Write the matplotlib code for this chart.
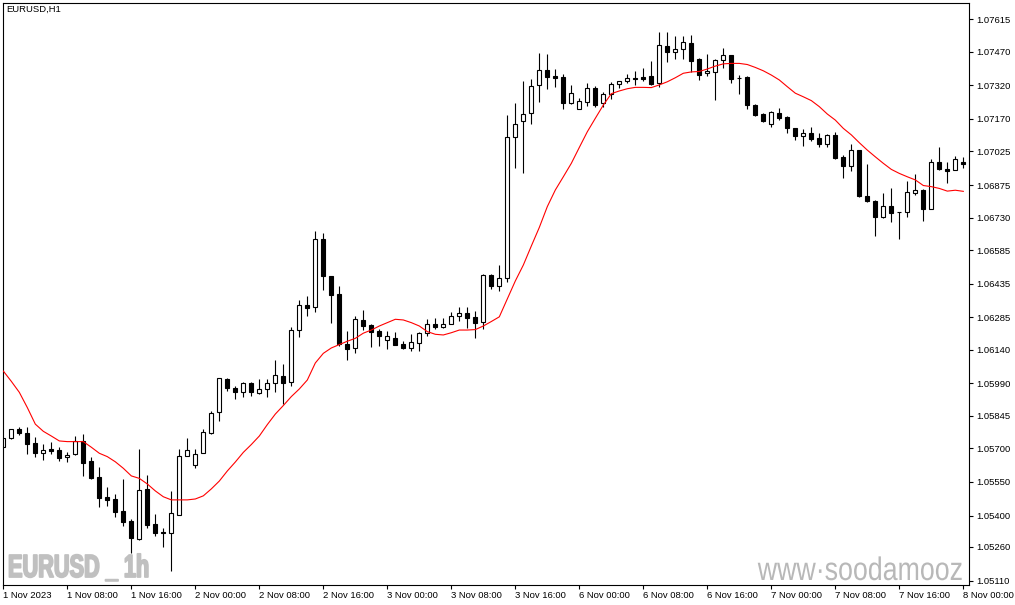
import matplotlib
matplotlib.use("Agg")
import matplotlib.pyplot as plt
from matplotlib.patheffects import AbstractPathEffect
from matplotlib.transforms import Affine2D
import numpy as np

# ---------------- data (EURUSD H1, 1 Nov 2023 00:00 .. 8 Nov 2023 00:00) ----------------
opens = [1.05707, 1.05745, 1.05785, 1.05769, 1.05723, 1.05678, 1.05696, 1.05692, 1.05660, 1.05673,
         1.05731, 1.05645, 1.05572, 1.05483, 1.05474, 1.05420, 1.05376, 1.05294, 1.05519, 1.05362,
         1.05325, 1.05321, 1.05403, 1.05665, 1.05624, 1.05678, 1.05769, 1.05861, 1.06008, 1.05968,
         1.05950, 1.05990, 1.05948, 1.05964, 1.05990, 1.06023, 1.05995, 1.06227, 1.06340, 1.06330,
         1.06633, 1.06469, 1.06389, 1.06166, 1.06147, 1.06273, 1.06249, 1.06224, 1.06182, 1.06193,
         1.06166, 1.06150, 1.06169, 1.06214, 1.06255, 1.06243, 1.06254, 1.06292, 1.06303, 1.06285,
         1.06263, 1.06474, 1.06423, 1.06459, 1.07088, 1.07160, 1.07195, 1.07320, 1.07387, 1.07362,
         1.07359, 1.07240, 1.07216, 1.07247, 1.07307, 1.07240, 1.07282, 1.07326, 1.07340, 1.07352,
         1.07357, 1.07362, 1.07329, 1.07496, 1.07467, 1.07481, 1.07508, 1.07436, 1.07374, 1.07381,
         1.07432, 1.07456, 1.07353, 1.07357, 1.07232, 1.07192, 1.07149, 1.07197, 1.07177, 1.07128,
         1.07095, 1.07106, 1.07084, 1.07057, 1.07097, 1.07000, 1.06959, 1.07031, 1.06826, 1.06804,
         1.06731, 1.06780, 1.06755, 1.06754, 1.06841, 1.06852, 1.06767, 1.06979, 1.06947, 1.06942,
         1.06977]
highs = [1.05748, 1.05787, 1.05795, 1.05794, 1.05751, 1.05721, 1.05730, 1.05706, 1.05682, 1.05755,
         1.05764, 1.05663, 1.05618, 1.05526, 1.05496, 1.05563, 1.05385, 1.05696, 1.05581, 1.05408,
         1.05346, 1.05510, 1.05696, 1.05745, 1.05696, 1.05788, 1.05867, 1.06015, 1.06014, 1.05978,
         1.05996, 1.05995, 1.06009, 1.06008, 1.06094, 1.06077, 1.06240, 1.06362, 1.06380, 1.06670,
         1.06661, 1.06470, 1.06425, 1.06224, 1.06289, 1.06318, 1.06255, 1.06231, 1.06224, 1.06219,
         1.06178, 1.06210, 1.06218, 1.06277, 1.06282, 1.06282, 1.06309, 1.06331, 1.06331, 1.06314,
         1.06478, 1.06476, 1.06518, 1.07188, 1.07240, 1.07340, 1.07348, 1.07464, 1.07460, 1.07392,
         1.07371, 1.07322, 1.07265, 1.07329, 1.07317, 1.07289, 1.07334, 1.07339, 1.07371, 1.07382,
         1.07396, 1.07430, 1.07557, 1.07557, 1.07540, 1.07542, 1.07544, 1.07444, 1.07459, 1.07438,
         1.07487, 1.07457, 1.07366, 1.07364, 1.07235, 1.07195, 1.07206, 1.07218, 1.07185, 1.07131,
         1.07125, 1.07133, 1.07106, 1.07102, 1.07111, 1.07008, 1.07058, 1.07032, 1.06969, 1.06808,
         1.06838, 1.06862, 1.06757, 1.06893, 1.06924, 1.06857, 1.06990, 1.07044, 1.06977, 1.07005,
         1.06999]
lows = [1.05704, 1.05743, 1.05758, 1.05673, 1.05663, 1.05648, 1.05676, 1.05644, 1.05639, 1.05671,
        1.05578, 1.05562, 1.05440, 1.05444, 1.05395, 1.05354, 1.05232, 1.05292, 1.05346, 1.05310,
        1.05261, 1.05154, 1.05401, 1.05664, 1.05614, 1.05677, 1.05763, 1.05822, 1.05955, 1.05922,
        1.05927, 1.05935, 1.05943, 1.05928, 1.05953, 1.05897, 1.05980, 1.06198, 1.06292, 1.06310,
        1.06407, 1.06261, 1.06157, 1.06094, 1.06127, 1.06228, 1.06154, 1.06157, 1.06142, 1.06160,
        1.06145, 1.06136, 1.06136, 1.06201, 1.06233, 1.06239, 1.06253, 1.06270, 1.06239, 1.06191,
        1.06231, 1.06410, 1.06401, 1.06444, 1.06953, 1.06928, 1.07146, 1.07247, 1.07303, 1.07314,
        1.07216, 1.07238, 1.07213, 1.07229, 1.07222, 1.07225, 1.07258, 1.07308, 1.07332, 1.07322,
        1.07338, 1.07323, 1.07311, 1.07423, 1.07436, 1.07436, 1.07378, 1.07344, 1.07362, 1.07255,
        1.07396, 1.07331, 1.07282, 1.07215, 1.07183, 1.07155, 1.07136, 1.07165, 1.07109, 1.07076,
        1.07051, 1.07071, 1.07046, 1.07046, 1.06993, 1.06908, 1.06939, 1.06823, 1.06798, 1.06649,
        1.06730, 1.06712, 1.06633, 1.06731, 1.06831, 1.06716, 1.06766, 1.06942, 1.06886, 1.06941,
        1.06950]
closes = [1.05745, 1.05785, 1.05767, 1.05721, 1.05678, 1.05691, 1.05688, 1.05658, 1.05670, 1.05731,
          1.05633, 1.05568, 1.05480, 1.05471, 1.05417, 1.05373, 1.05301, 1.05514, 1.05359, 1.05324,
          1.05321, 1.05410, 1.05665, 1.05691, 1.05675, 1.05773, 1.05857, 1.06013, 1.05968, 1.05950,
          1.05990, 1.05950, 1.05964, 1.05990, 1.06026, 1.05993, 1.06227, 1.06338, 1.06328, 1.06633,
          1.06471, 1.06386, 1.06166, 1.06145, 1.06277, 1.06247, 1.06221, 1.06203, 1.06201, 1.06163,
          1.06147, 1.06173, 1.06214, 1.06254, 1.06243, 1.06254, 1.06289, 1.06303, 1.06283, 1.06261,
          1.06474, 1.06423, 1.06459, 1.07088, 1.07146, 1.07192, 1.07317, 1.07387, 1.07359, 1.07352,
          1.07240, 1.07285, 1.07252, 1.07307, 1.07234, 1.07282, 1.07325, 1.07338, 1.07352, 1.07348,
          1.07349, 1.07325, 1.07499, 1.07467, 1.07481, 1.07512, 1.07430, 1.07368, 1.07384, 1.07432,
          1.07454, 1.07349, 1.07352, 1.07234, 1.07188, 1.07162, 1.07201, 1.07176, 1.07131, 1.07095,
          1.07106, 1.07082, 1.07057, 1.07097, 1.06997, 1.06962, 1.07030, 1.06828, 1.06805, 1.06734,
          1.06780, 1.06752, 1.06754, 1.06843, 1.06852, 1.06767, 1.06979, 1.06945, 1.06939, 1.06990,
          1.06971]
ma_values = [1.06045, 1.05999, 1.05950, 1.05882, 1.05808, 1.05776, 1.05755, 1.05733, 1.05730, 1.05730,
             1.05730, 1.05705, 1.05678, 1.05663, 1.05640, 1.05611, 1.05577, 1.05566, 1.05541, 1.05510,
             1.05484, 1.05470, 1.05470, 1.05470, 1.05474, 1.05488, 1.05519, 1.05554, 1.05599, 1.05639,
             1.05682, 1.05717, 1.05755, 1.05806, 1.05853, 1.05891, 1.05931, 1.05965, 1.06005, 1.06081,
             1.06124, 1.06148, 1.06163, 1.06178, 1.06191, 1.06214, 1.06228, 1.06246, 1.06261, 1.06276,
             1.06273, 1.06261, 1.06246, 1.06221, 1.06209, 1.06206, 1.06216, 1.06228, 1.06228, 1.06230,
             1.06246, 1.06266, 1.06287, 1.06367, 1.06447, 1.06518, 1.06603, 1.06686, 1.06779, 1.06853,
             1.06912, 1.06972, 1.07043, 1.07113, 1.07173, 1.07232, 1.07283, 1.07295, 1.07305, 1.07311,
             1.07311, 1.07310, 1.07322, 1.07336, 1.07354, 1.07374, 1.07380, 1.07382, 1.07393, 1.07406,
             1.07416, 1.07418, 1.07418, 1.07413, 1.07400, 1.07385, 1.07366, 1.07344, 1.07314, 1.07285,
             1.07269, 1.07252, 1.07225, 1.07192, 1.07165, 1.07128, 1.07099, 1.07064, 1.07031, 1.07001,
             1.06972, 1.06945, 1.06927, 1.06912, 1.06898, 1.06873, 1.06868, 1.06860, 1.06848, 1.06852,
             1.06847]

price_ticks = [1.07615, 1.07470, 1.07320, 1.07170, 1.07025, 1.06875, 1.06730, 1.06585, 1.06435,
               1.06285, 1.06140, 1.05990, 1.05845, 1.05700, 1.05550, 1.05400, 1.05260, 1.05110]
time_labels = ["1 Nov 2023", "1 Nov 08:00", "1 Nov 16:00", "2 Nov 00:00", "2 Nov 08:00",
               "2 Nov 16:00", "3 Nov 00:00", "3 Nov 08:00", "3 Nov 16:00", "6 Nov 00:00",
               "6 Nov 08:00", "6 Nov 16:00", "7 Nov 00:00", "7 Nov 08:00", "7 Nov 16:00",
               "8 Nov 00:00"]
label_step = 8  # one label every 8 hourly bars


class HScale(AbstractPathEffect):
    """Draw text glyphs horizontally condensed (narrow font look), optionally emboldened.
    anchor='left' keeps the start of the string fixed, 'right' keeps its end fixed."""
    def __init__(self, sx, anchor="left", stroke=0.0):
        super().__init__()
        self.sx = sx
        self.anchor = anchor
        self.stroke = stroke

    def draw_path(self, renderer, gc, tpath, affine, rgbFace=None):
        if self.anchor == "right":
            x1 = tpath.get_extents().x1
            pre = Affine2D().translate(-x1, 0).scale(self.sx, 1.0).translate(x1, 0)
        else:
            pre = Affine2D().scale(self.sx, 1.0)
        aff = pre + affine
        if self.stroke > 0 and rgbFace is not None:
            gc0 = renderer.new_gc()
            gc0.copy_properties(gc)
            gc0.set_linewidth(self.stroke)
            gc0.set_foreground(rgbFace)
            renderer.draw_path(gc0, tpath, aff, rgbFace)
            gc0.restore()
        else:
            renderer.draw_path(gc, tpath, aff, rgbFace)


# ---------------- figure ----------------
W, H = 1015, 605
fig = plt.figure(figsize=(W / 100, H / 100), dpi=100)
fig.patch.set_facecolor("white")
ax = fig.add_axes([3 / W, 1 - 585 / H, 966 / W, 582.5 / H])
ax.set_facecolor("white")

o = np.array(opens); h = np.array(highs); l = np.array(lows); c = np.array(closes)
x = np.arange(len(o))
bull = c >= o

# wicks
ax.vlines(x, l, h, color="black", linewidth=0.8, zorder=1)
# bodies
bottom = np.minimum(o, c)
height = np.maximum(np.abs(c - o), 0.00002)
face = np.where(bull, "white", "black")
ax.bar(x, height, bottom=bottom, width=0.52, color=face, edgecolor="black",
       linewidth=0.8, zorder=2)

# moving average
ax.plot(x, ma_values, color="#ff0000", linewidth=0.8, zorder=3)

ax.set_xlim(-0.04, 120.71)
ax.set_ylim(1.050901, 1.076898)

for s in ax.spines.values():
    s.set_linewidth(0.8)
    s.set_color("black")

# price axis on the right
ax.yaxis.tick_right()
ax.set_yticks(price_ticks)
ax.set_yticklabels([f"{v:.5f}" for v in price_ticks])
ax.tick_params(axis="y", direction="out", length=3, width=0.8, pad=2,
               labelsize=6.8, labelfontfamily="Liberation Sans")

# time axis
ax.set_xticks(np.arange(len(time_labels)) * label_step)
ax.set_xticklabels(time_labels)
ax.tick_params(axis="x", direction="out", length=3, width=0.8, pad=1.5,
               labelsize=6.8, labelfontfamily="Liberation Sans")
for lbl in ax.get_xticklabels():
    lbl.set_horizontalalignment("left")

# texts
fig.text(6 / W, 1 - 4.5 / H, "EURUSD,H1", fontsize=6.8, family="Liberation Sans",
         va="top", ha="left", color="black")
fig.text(8 / W, 1 - 577 / H, "EURUSD _ 1h", fontsize=23, fontweight="bold",
         family="Liberation Sans", color="#c0c0c0", va="baseline", ha="left",
         path_effects=[HScale(0.68, anchor="left", stroke=1.3)])
ax.text(963 / W, 1 - 580 / H, "www·soodamooz", fontsize=23.5,
        family="Liberation Sans", color="#b8b8b8", va="baseline", ha="right",
        transform=fig.transFigure, clip_on=True, zorder=0,
        path_effects=[HScale(0.82, anchor="right")])

fig.savefig("out.png", dpi=100, facecolor="white")
